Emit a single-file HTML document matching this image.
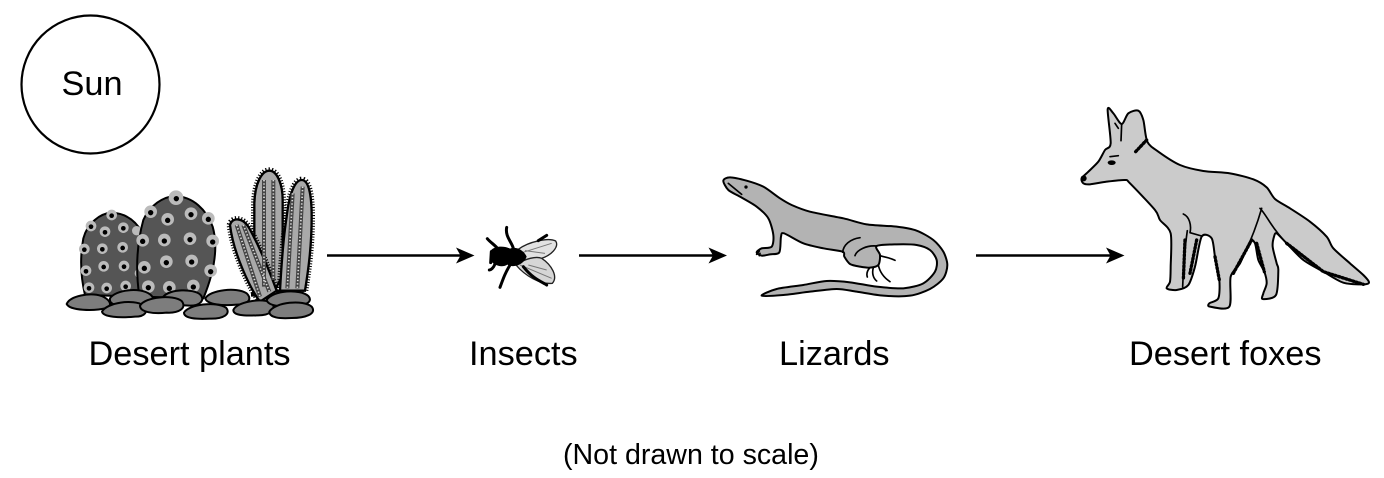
<!DOCTYPE html>
<html lang="en">
<head>
<meta charset="utf-8">
<title>Desert food chain</title>
<style>
html,body{margin:0;padding:0;background:#fff;width:1384px;height:478px;overflow:hidden}
svg{display:block}
text{font-family:"Liberation Sans",Arial,sans-serif;fill:#000}
.s{fill:none;stroke:#000;stroke-linecap:round;stroke-linejoin:round}
</style>
</head>
<body>
<svg width="1384" height="478" viewBox="0 0 1384 478">
  <g>
    <circle cx="90.5" cy="84.5" r="69" fill="#fff" stroke="#000" stroke-width="2.2"/>
    <text x="61.5" y="95" font-size="34.3">Sun</text>
  </g>

  <g transform="translate(60,160) scale(0.33333)">
    <g>
      <g stroke="#000" fill="#a9a9a9">
        <path d="M583 400 L583 130 C585 70 605 32 628 32 C652 32 668 75 668 120 L668 345 L640 400Z" stroke-width="20" stroke-dasharray="3 5" fill="none"/>
        <path d="M583 400 L583 130 C585 70 605 32 628 32 C652 32 668 75 668 120 L668 345 L640 400Z" stroke-width="7"/>
        <path d="M660 392 C665 300 672 220 680 170 C688 100 705 60 725 60 C745 60 755 100 755 170 C755 260 745 330 735 392Z" stroke-width="20" stroke-dasharray="3 5" fill="none"/>
        <path d="M660 392 C665 300 672 220 680 170 C688 100 705 60 725 60 C745 60 755 100 755 170 C755 260 745 330 735 392Z" stroke-width="7"/>
        <path d="M510 195 C515 172 548 170 568 205 C590 245 620 310 650 392 L600 425 C570 385 520 280 510 195Z" stroke-width="20" stroke-dasharray="3 5" fill="none"/>
        <path d="M510 195 C515 172 548 170 568 205 C590 245 620 310 650 392 L600 425 C570 385 520 280 510 195Z" stroke-width="7"/>
      </g>
      <g fill="none">
        <path d="M612 60 L612 380 M640 60 L640 360 M698 100 L682 385 M728 80 L712 385 M530 195 L600 410 M550 195 L628 395" stroke="#444" stroke-width="12"/>
        <path d="M612 60 L612 380 M640 60 L640 360 M698 100 L682 385 M728 80 L712 385 M530 195 L600 410 M550 195 L628 395" stroke="#ddd" stroke-width="5" stroke-dasharray="4 6"/>
      </g>
    </g>
    <path fill="#555" stroke="#000" stroke-width="6" d="M75 405 C62 350 60 290 70 235 C82 190 120 160 155 158 C195 160 225 180 245 215 L240 410Z"/>
    <g fill="#bbb">
      <circle cx="155" cy="165" r="16"/><circle cx="93" cy="198" r="16"/><circle cx="135" cy="215" r="16"/><circle cx="190" cy="203" r="16"/><circle cx="230" cy="212" r="14"/><circle cx="73" cy="267" r="16"/><circle cx="127" cy="266" r="16"/><circle cx="188" cy="262" r="16"/><circle cx="78" cy="332" r="16"/><circle cx="131" cy="319" r="16"/><circle cx="192" cy="318" r="16"/><circle cx="87" cy="383" r="16"/><circle cx="140" cy="384" r="16"/><circle cx="197" cy="378" r="16"/><circle cx="238" cy="340" r="14"/>
    </g>
    <g fill="#000">
      <circle cx="155" cy="167" r="7"/><circle cx="93" cy="200" r="7"/><circle cx="135" cy="217" r="7"/><circle cx="190" cy="205" r="7"/><circle cx="73" cy="269" r="7"/><circle cx="127" cy="268" r="7"/><circle cx="188" cy="264" r="7"/><circle cx="78" cy="334" r="7"/><circle cx="131" cy="321" r="7"/><circle cx="192" cy="320" r="7"/><circle cx="87" cy="385" r="7"/><circle cx="140" cy="386" r="7"/><circle cx="197" cy="380" r="7"/>
    </g>
    <path fill="#555" stroke="#000" stroke-width="6" d="M238 410 C228 340 228 260 250 180 C270 135 310 110 345 108 C400 110 440 150 458 200 C475 260 465 330 430 415Z"/>
    <g fill="#bbb">
      <circle cx="348" cy="113" r="22"/><circle cx="272" cy="155" r="19"/><circle cx="323" cy="178" r="19"/><circle cx="393" cy="161" r="19"/><circle cx="445" cy="175" r="19"/><circle cx="248" cy="241" r="19"/><circle cx="313" cy="240" r="19"/><circle cx="390" cy="236" r="19"/><circle cx="458" cy="243" r="19"/><circle cx="253" cy="322" r="19"/><circle cx="319" cy="305" r="19"/><circle cx="395" cy="303" r="19"/><circle cx="452" cy="332" r="19"/><circle cx="265" cy="380" r="19"/><circle cx="328" cy="382" r="19"/><circle cx="400" cy="378" r="19"/>
    </g>
    <g fill="#000">
      <circle cx="349" cy="116" r="8"/><circle cx="272" cy="158" r="8"/><circle cx="323" cy="181" r="8"/><circle cx="393" cy="164" r="8"/><circle cx="445" cy="178" r="8"/><circle cx="248" cy="244" r="8"/><circle cx="313" cy="243" r="8"/><circle cx="390" cy="239" r="8"/><circle cx="458" cy="246" r="8"/><circle cx="253" cy="325" r="8"/><circle cx="319" cy="308" r="8"/><circle cx="395" cy="306" r="8"/><circle cx="452" cy="335" r="8"/><circle cx="265" cy="383" r="8"/><circle cx="328" cy="385" r="8"/><circle cx="400" cy="381" r="8"/>
    </g>
    <g fill="#7d7d7d" stroke="#000" stroke-width="6" stroke-linejoin="round">
      <path d="M20 432 C30 408 90 396 125 408 C148 418 160 435 140 444 C100 454 30 452 20 432Z"/>
      <path d="M150 415 C165 390 240 380 270 403 C292 420 270 434 240 434 L165 434 C155 432 148 425 150 415Z"/>
      <path d="M310 410 C330 386 400 386 420 403 C437 420 420 437 390 437 L330 434 C315 430 305 420 310 410Z"/>
      <path d="M126 455 C140 428 220 416 250 436 C267 455 255 470 225 470 C180 474 130 472 126 455Z"/>
      <path d="M240 437 C255 410 340 403 365 423 C382 445 355 460 320 458 C280 462 240 457 240 437Z"/>
      <path d="M436 415 C450 390 530 380 560 400 C580 420 560 434 530 434 C490 438 440 434 436 415Z"/>
      <path d="M372 458 C385 433 470 423 498 443 C514 462 490 477 450 476 C410 478 372 476 372 458Z"/>
      <path d="M520 450 C530 426 600 413 635 428 C652 450 630 467 590 466 C550 468 520 466 520 450Z"/>
      <path d="M620 420 C640 390 720 386 745 408 C762 428 730 438 700 438 C670 440 625 440 620 420Z"/>
      <path d="M628 455 C645 426 730 418 755 440 C772 462 735 474 695 474 C660 476 628 474 628 455Z"/>
    </g>
  </g>

  <text x="88.5" y="365" font-size="34.3">Desert plants</text>

  <g>
    <line x1="327" y1="255.5" x2="464" y2="255.5" stroke="#000" stroke-width="2.5"/>
    <path d="M474.5 255.5 L456 247.5 L460.5 255.5 L456 263.5Z" fill="#000"/>
  </g>

  <g transform="translate(470,220) scale(0.33333)">
    <path fill="#e2e2e2" stroke="#222" stroke-width="4" d="M145 88 C175 65 235 52 257 63 C268 80 245 108 205 118 L155 120Z"/>
    <path fill="#d6d6d6" stroke="#222" stroke-width="4" d="M138 135 C165 115 200 108 215 115 C245 135 265 170 247 190 C210 194 165 167 138 135Z"/>
    <path fill="none" stroke="#777" stroke-width="3" d="M150 100 L245 70 M165 92 L225 100 M150 135 L245 175 M175 135 L230 150"/>
    <path fill="#000" d="M62 92 C75 76 105 78 120 86 C140 78 162 92 170 110 C162 132 135 146 112 134 C95 145 70 135 62 122Z"/>
    <path class="s" stroke-width="9" d="M130 85 C125 65 105 50 110 22 M85 88 C75 75 62 68 52 56 M75 132 C70 145 62 150 58 150 M120 135 C105 160 100 175 90 202 M160 140 C190 178 215 185 230 195 M205 62 L230 46 M64 95 L62 128"/>
  </g>
  <text x="469" y="365" font-size="34.3">Insects</text>

  <g>
    <line x1="579" y1="255.5" x2="717" y2="255.5" stroke="#000" stroke-width="2.5"/>
    <path d="M727 255.5 L708.5 247.5 L713 255.5 L708.5 263.5Z" fill="#000"/>
  </g>

  <g transform="translate(710,165) scale(0.33333)">
    <path class="smooth" fill="#b3b3b3" stroke="#000" stroke-width="6" stroke-linejoin="round"
      data-pts="40,47 60,37 110,47 160,65 210,100 245,120 300,140 400,160 470,178 560,185 620,197 670,225 700,260 712,300 700,340 660,372 600,392 520,392 440,380 380,372 300,380 220,390 155,392 200,372 280,360 350,348 420,352 500,365 580,370 640,355 675,320 680,285 660,255 620,240 560,238 500,243 510,270 505,300 480,308 450,305 420,297 403,275 398,260 340,250 280,235 222,205 213,215 208,262 180,268 155,272 140,262 155,250 185,245 190,210 175,160 140,125 90,95 55,75"/>
    <path class="s" stroke-width="5" d="M450 218 C420 222 400 240 398 262 M500 243 C470 240 440 255 435 272 M55 55 L95 88 M505 300 C510 325 525 340 540 350 M490 308 C485 325 490 340 500 348 M478 310 C470 320 470 330 472 336 M510 272 C530 278 545 280 555 286 M148 258 L140 268 M150 265 L148 272"/>
    <circle cx="108" cy="66" r="5" fill="#000"/>
  </g>
  <text x="779" y="365" font-size="34.3">Lizards</text>

  <g>
    <line x1="976" y1="255.5" x2="1114" y2="255.5" stroke="#000" stroke-width="2.5"/>
    <path d="M1124.5 255.5 L1106 247.5 L1110.5 255.5 L1106 263.5Z" fill="#000"/>
  </g>

  <g transform="translate(1070,100) scale(0.33333)">
    <path class="smooth" fill="#cbcbcb" stroke="#000" stroke-width="6" stroke-linejoin="round"
      data-pts="35,235 55,215 85,185 105,150 122,130 113,28 130,40 155,72 175,40 205,32 220,60 232,125 265,155 330,195 400,213 480,220 550,238 590,262 615,297 660,325 720,365 770,410 790,445 840,490 880,525 897,547 880,553 820,548 760,515 700,480 650,430 620,400 612,410 608,440 620,490 625,510 618,585 578,597 580,580 590,550 583,515 565,480 555,430 540,425 510,490 482,530 478,620 420,620 418,610 445,595 448,540 435,470 425,415 395,410 375,500 355,555 320,570 290,565 300,545 302,500 302,400 270,360 255,330 180,250 165,240 110,245 60,253 40,250"/>
    <path class="s" stroke-width="5" d="M340 342 C358 350 365 375 360 398 L395 408 M352 392 C345 440 340 510 338 560 M155 72 L153 122 M120 170 L145 167 M575 325 C565 360 545 420 510 490 M570 325 C590 345 605 385 650 430 M135 70 L145 85"/>
    <path class="s" stroke-width="10" stroke-dasharray="4 7" stroke-linecap="butt" d="M345 420 L340 540 M380 420 L360 520 M435 470 L448 540 M560 430 L583 515 M545 420 L490 520 M650 430 L760 515 L880 553 M197 155 L230 120"/>
    <ellipse cx="125" cy="188" rx="12" ry="7" fill="#000"/>
    <circle cx="41" cy="235" r="9" fill="#000"/>
  </g>
  <text x="1129" y="365" font-size="34.3">Desert foxes</text>

  <text x="563" y="464" font-size="28.6">(Not drawn to scale)</text>
</svg>
<script>
document.querySelectorAll('path.smooth').forEach(function (el) {
  var p = el.getAttribute('data-pts').trim().split(/\s+/).map(function (s) { return s.split(',').map(Number); });
  var n = p.length, d = 'M' + p[0][0] + ' ' + p[0][1];
  for (var i = 0; i < n; i++) {
    var a = p[(i - 1 + n) % n], b = p[i], c = p[(i + 1) % n], e = p[(i + 2) % n], k = 0.14;
    d += ' C' + (b[0] + (c[0] - a[0]) * k).toFixed(1) + ' ' + (b[1] + (c[1] - a[1]) * k).toFixed(1) + ' ' +
         (c[0] - (e[0] - b[0]) * k).toFixed(1) + ' ' + (c[1] - (e[1] - b[1]) * k).toFixed(1) + ' ' + c[0] + ' ' + c[1];
  }
  el.setAttribute('d', d + 'Z');
});
</script>
</body>
</html>
